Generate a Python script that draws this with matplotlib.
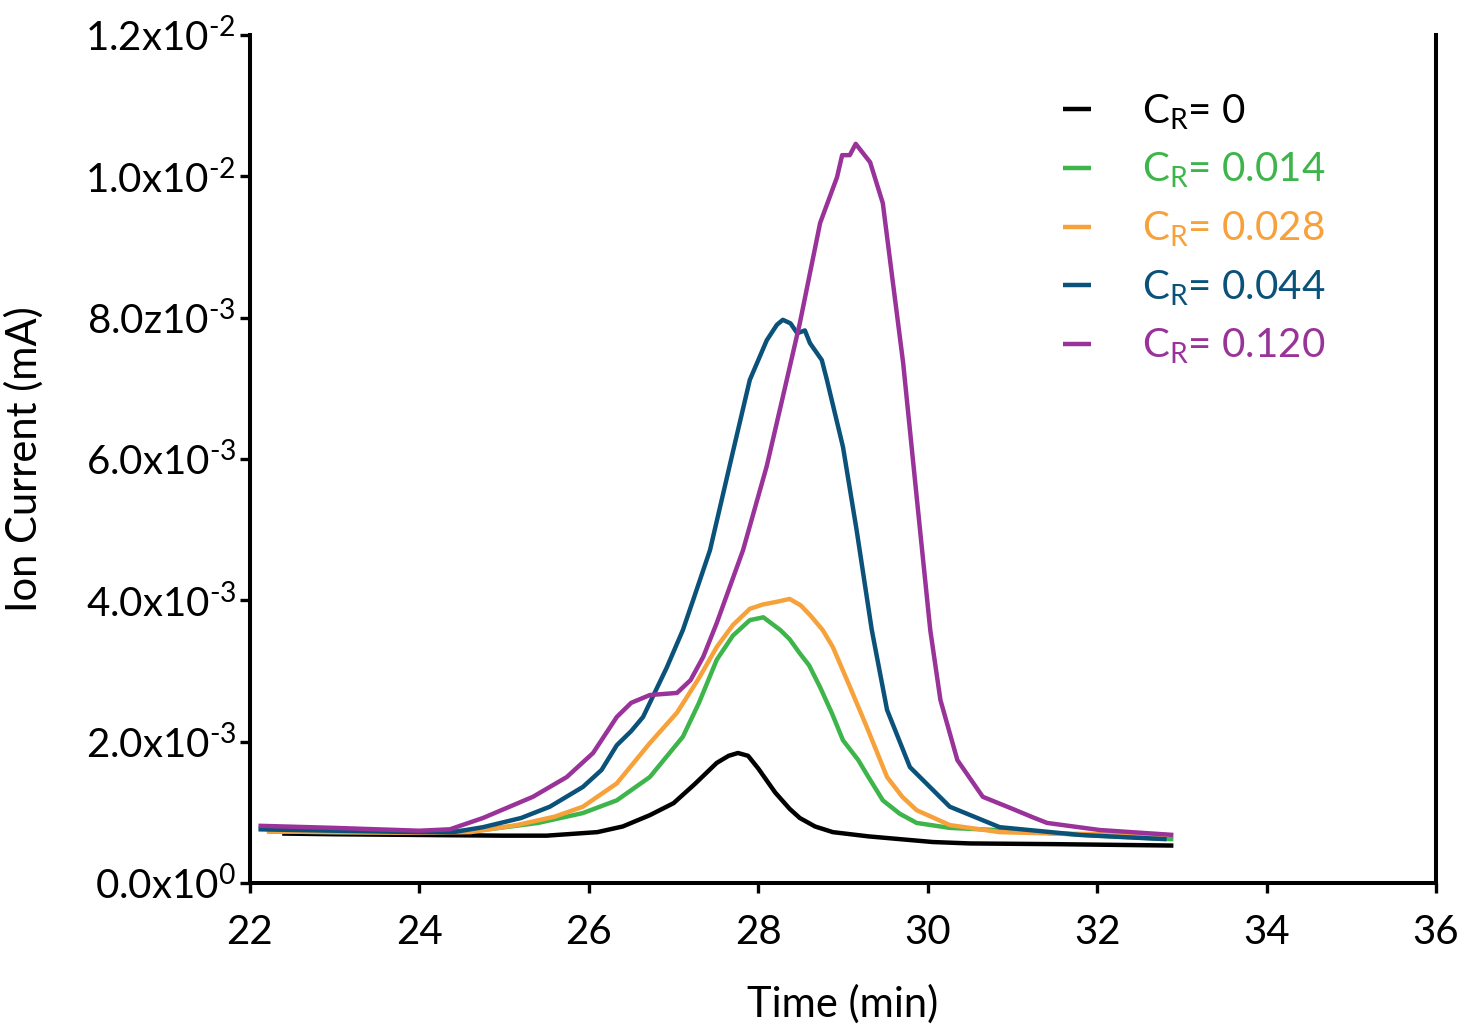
import matplotlib
matplotlib.use("Agg")
import matplotlib.pyplot as plt
import numpy as np

# values (time in min, current in mA x 1e-3)
t_0 = [22.38, 23.0, 24.0, 25.0, 25.5, 26.1, 26.4, 26.72, 27.0, 27.25, 27.51, 27.65, 27.76, 27.88,
       28.0, 28.2, 28.37, 28.49, 28.67, 28.88, 29.3, 30.06, 30.5, 31.5, 32.9]
i_0 = [0.70, 0.69, 0.68, 0.67, 0.67, 0.72, 0.80, 0.96, 1.13, 1.40, 1.70, 1.80, 1.84, 1.80,
       1.62, 1.28, 1.05, 0.92, 0.80, 0.72, 0.66, 0.58, 0.56, 0.55, 0.53]

t_014 = [22.2, 23.0, 24.0, 24.75, 25.4, 25.93, 26.33, 26.72, 27.11, 27.3, 27.51, 27.7, 27.9, 28.06,
         28.26, 28.37, 28.49, 28.6, 28.73, 28.87, 29.0, 29.18, 29.3, 29.47, 29.67, 29.87, 30.26,
         30.8, 31.24, 32.0, 32.9]
i_014 = [0.73, 0.72, 0.71, 0.75, 0.85, 0.99, 1.17, 1.50, 2.07, 2.55, 3.16, 3.50, 3.72, 3.76,
         3.58, 3.45, 3.25, 3.08, 2.77, 2.40, 2.02, 1.74, 1.50, 1.17, 0.98, 0.85, 0.78,
         0.75, 0.72, 0.67, 0.62]

t_028 = [22.2, 23.0, 24.0, 24.6, 25.15, 25.6, 25.93, 26.33, 26.72, 27.04, 27.3, 27.51, 27.7, 27.9,
         28.05, 28.22, 28.37, 28.5, 28.62, 28.76, 28.88, 29.08, 29.28, 29.52, 29.7, 29.87, 30.26,
         30.85, 31.5, 32.82]
i_028 = [0.73, 0.72, 0.71, 0.72, 0.82, 0.94, 1.08, 1.41, 1.98, 2.41, 2.90, 3.34, 3.65, 3.88,
         3.94, 3.98, 4.02, 3.93, 3.78, 3.58, 3.34, 2.78, 2.21, 1.50, 1.22, 1.03, 0.82,
         0.72, 0.70, 0.68]

t_044 = [22.1, 23.0, 24.0, 24.4, 24.75, 25.2, 25.54, 25.93, 26.15, 26.33, 26.5, 26.64, 26.8, 26.92,
         27.11, 27.23, 27.43, 27.7, 27.9, 28.1, 28.22, 28.29, 28.38, 28.46, 28.55, 28.61, 28.75,
         28.81, 29.0, 29.16, 29.34, 29.52, 29.79, 30.26, 30.85, 31.8, 32.82]
i_044 = [0.76, 0.74, 0.72, 0.72, 0.79, 0.92, 1.08, 1.36, 1.60, 1.95, 2.15, 2.35, 2.75, 3.05,
         3.58, 4.0, 4.71, 6.1, 7.12, 7.68, 7.90, 7.97, 7.92, 7.78, 7.82, 7.64, 7.4,
         7.12, 6.17, 5.0, 3.58, 2.45, 1.64, 1.08, 0.79, 0.68, 0.62]

t_120 = [22.1, 23.0, 24.0, 24.36, 24.75, 25.34, 25.74, 26.05, 26.33, 26.5, 26.72, 27.04, 27.2, 27.35,
         27.51, 27.82, 28.1, 28.29, 28.49, 28.73, 28.93, 28.99, 29.08, 29.15, 29.32, 29.47, 29.56,
         29.71, 29.87, 30.03, 30.15, 30.35, 30.65, 31.0, 31.24, 31.41, 32.03, 32.9]
i_120 = [0.81, 0.78, 0.74, 0.76, 0.92, 1.22, 1.50, 1.84, 2.35, 2.55, 2.66, 2.69, 2.87, 3.20,
         3.68, 4.71, 5.90, 6.88, 7.92, 9.34, 9.99, 10.3, 10.3, 10.46, 10.2, 9.62, 8.77,
         7.36, 5.46, 3.58, 2.59, 1.74, 1.22, 1.05, 0.93, 0.85, 0.75, 0.68]

labels = ["0", "0.014", "0.028", "0.044", "0.120"]
colors = ["#000000", "#3db54a", "#f7a13a", "#0b527b", "#993399"]

x_ticks = [22, 24, 26, 28, 30, 32, 34, 36]
y_ticks = [0, 2e-3, 4e-3, 6e-3, 8e-3, 1.0e-2, 1.2e-2]
y_tick_labels = [r"0.0x10$^{\text{0}}$", r"2.0x10$^{\text{-3}}$", r"4.0x10$^{\text{-3}}$",
                 r"6.0x10$^{\text{-3}}$", r"8.0z10$^{\text{-3}}$", r"1.0x10$^{\text{-2}}$",
                 r"1.2x10$^{\text{-2}}$"]

plt.rcParams["font.family"] = ["Lato", "DejaVu Sans"]
plt.rcParams["mathtext.fontset"] = "custom"
plt.rcParams["mathtext.rm"] = "Lato"
plt.rcParams["mathtext.it"] = "Lato"
plt.rcParams["mathtext.default"] = "rm"

fig = plt.figure(figsize=(14.61, 10.27), dpi=100)
ax = fig.add_axes([0.1711, 0.1402, 0.8118, 0.8257])

series = [(t_0, i_0), (t_014, i_014), (t_028, i_028), (t_044, i_044), (t_120, i_120)]
for (t, i), lab, c in zip(series, labels, colors):
    ax.plot(t, np.array(i) * 1e-3, color=c, lw=3.2, solid_joinstyle="round",
            solid_capstyle="butt", label="C$_{R}$= " + lab)

ax.set_xlim(22, 36)
ax.set_ylim(0, 1.2e-2)
ax.set_xticks(x_ticks)
ax.set_yticks(y_ticks)
ax.set_yticklabels(y_tick_labels)

ax.spines["top"].set_visible(False)
for s in ["left", "bottom", "right"]:
    ax.spines[s].set_linewidth(2.9)
ax.tick_params(axis="both", which="major", direction="out", length=7, width=2.4,
               labelsize=29, pad=3)
ax.tick_params(axis="x", pad=15)

ax.set_xlabel("Time (min)", fontsize=30, labelpad=24)
ax.set_ylabel("Ion Current (mA)", fontsize=30, labelpad=30)

leg = ax.legend(loc="upper left", bbox_to_anchor=(0.655, 0.975), frameon=False,
                fontsize=29, handlelength=0.7, handletextpad=1.25, labelspacing=0.48)
for line, text in zip(leg.get_lines(), leg.get_texts()):
    text.set_color(line.get_color())
    line.set_linewidth(3.2)

fig.savefig("out.png", dpi=100)
